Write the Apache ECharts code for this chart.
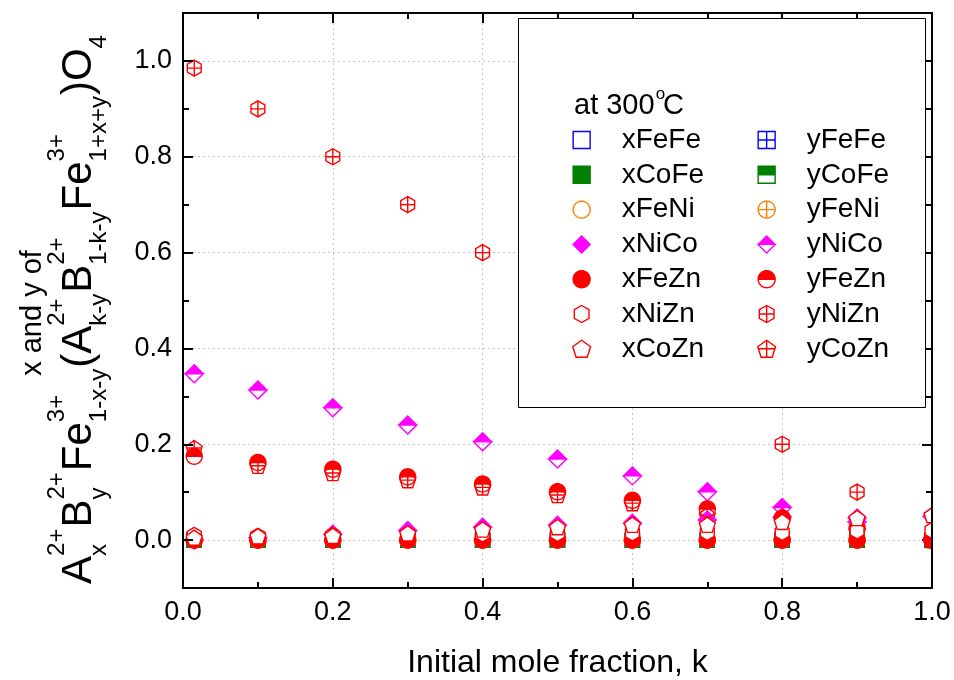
<!DOCTYPE html>
<html><head><meta charset="utf-8">
<script src="https://cdn.jsdelivr.net/npm/echarts/dist/echarts.min.js"></script>
<style>html,body{margin:0;padding:0;background:#fff}#c{width:954px;height:680px}</style>
</head><body><div id="c"></div>
<script>
// ---------------- data ----------------
const kValues = [0.015, 0.1, 0.2, 0.3, 0.4, 0.5, 0.6, 0.7, 0.8, 0.9, 1.0];
const xFeFe = [0, 0, 0, 0, 0, 0, 0, 0, 0, 0, 0];
const yFeFe = [0, 0, 0, 0, 0, 0, 0, 0, 0, 0, 0];
const xCoFe = [0, 0, 0, 0, 0, 0, 0, 0, 0, 0, 0];
const yCoFe = [0, 0, 0, 0, 0, 0, 0, 0, 0, 0, 0];
const xFeNi = [0, 0, 0, 0, 0, 0, 0, 0, 0, 0, 0];
const yFeNi = [0, 0, 0, 0, 0, 0, 0, 0, 0, 0, 0];
const xNiCo = [0.0, 0.005, 0.012, 0.02, 0.027, 0.031, 0.035, 0.042, 0.048, 0.046, 0.05];
const yNiCo = [0.347, 0.313, 0.276, 0.240, 0.205, 0.169, 0.134, 0.101, 0.068, 0.038, 0.0];
const xFeZn = [0, 0, 0, 0, 0, 0, 0, 0, 0, 0, 0];
const yFeZn = [0.175, 0.162, 0.148, 0.132, 0.117, 0.101, 0.083, 0.065, 0.046, 0.025, 0.003];
const xNiZn = [0.01, 0.008, 0.01, 0.012, 0.013, 0.014, 0.015, 0.016, 0.016, 0.019, 0.02];
const yNiZn = [0.985, 0.9, 0.8, 0.7, 0.6, 0.5, 0.4, 0.3, 0.2, 0.1, 0.0];
const xCoZn = [0.005, 0.008, 0.009, 0.014, 0.022, 0.027, 0.032, 0.032, 0.038, 0.046, 0.052];
const yCoZn = [0.192, 0.155, 0.14, 0.125, 0.11, 0.094, 0.077, 0.052, 0.044, 0.02, 0.0];
const xTickLabels = ['0.0', '0.2', '0.4', '0.6', '0.8', '1.0'];
const yTickLabels = ['0.0', '0.2', '0.4', '0.6', '0.8', '1.0'];
const legendX = ['xFeFe', 'xCoFe', 'xFeNi', 'xNiCo', 'xFeZn', 'xNiZn', 'xCoZn'];
const legendY = ['yFeFe', 'yCoFe', 'yFeNi', 'yNiCo', 'yFeZn', 'yNiZn', 'yCoZn'];

// ---------------- symbols ----------------
const H = 7;
function P(pts) { return 'M' + pts.map(p => p[0].toFixed(2) + ' ' + p[1].toFixed(2)).join(' L') + ' Z'; }
function arc(a0, a1, n) { const o = []; for (let i = 0; i <= n; i++) { const a = (a0 + (a1 - a0) * i / n) * Math.PI / 180; o.push([H + H * Math.cos(a), H + H * Math.sin(a)]); } return o; }
function ngon(angles) { return angles.map(d => { const a = d * Math.PI / 180; return [H + H * Math.cos(a), H + H * Math.sin(a)]; }); }
const SH = {};
SH.square = 'M0 0 L14 0 L14 14 L0 14 Z';
SH.squareCross = SH.square + ' M7 0 L7 14 M0 7 L14 7';
SH.squareHalf = SH.square + ' M0 7 L0 14 L14 14 L14 7 Z';
const circ = arc(-90, 270, 40); circ.pop();
SH.circle = P(circ);
SH.circleCross = SH.circle + ' M7 0 L7 14 M0 7 L14 7';
SH.circleHalf = SH.circle + ' ' + P(arc(180, 0, 20));
SH.diamond = 'M7 0 L14 7 L7 14 L0 7 Z';
SH.diamondHalf = SH.diamond + ' M0 7 L7 14 L14 7 Z';
const hexPts = ngon([-90, -30, 30, 90, 150, 210]);
SH.hex = P(hexPts);
SH.hexCross = SH.hex + ' M7 0 L7 14 M' + hexPts[5][0].toFixed(2) + ' 7 L' + hexPts[1][0].toFixed(2) + ' 7';
const penPts = ngon([-90, -18, 54, 126, 198]);
SH.pent = P(penPts);
SH.pentCross = SH.pent + ' M7 0 L7 ' + penPts[2][1].toFixed(2) + ' M0.8 6.3 L13.2 6.3';

const BLUE = '#0000ff', GREEN = '#008000', ORANGE = '#ff8000', MAG = '#ff00ff', RED = '#ff0000';
function mk(name, vals, shape, stroke, fill, size) {
  return {
    name, type: 'scatter', xAxisIndex: 0, yAxisIndex: 0,
    data: kValues.map((k, i) => [k, vals[i]]),
    symbol: 'path://' + SH[shape], symbolSize: size, symbolKeepAspect: true,
    itemStyle: { color: fill, borderColor: stroke, borderWidth: 1.4, opacity: 1 },
    emphasis: { disabled: true }, z: 2, animation: false
  };
}
const series = [
  mk('xFeFe', xFeFe, 'square', BLUE, '#fff', 14),
  mk('yFeFe', yFeFe, 'squareCross', BLUE, '#fff', 14),
  mk('xCoFe', xCoFe, 'square', GREEN, GREEN, 14),
  mk('yCoFe', yCoFe, 'squareHalf', GREEN, GREEN, 14),
  mk('xFeNi', xFeNi, 'circle', ORANGE, '#fff', 16),
  mk('yFeNi', yFeNi, 'circleCross', ORANGE, '#fff', 16),
  mk('yNiZn', yNiZn, 'hexCross', RED, '#fff', 16),
  mk('yCoZn', yCoZn, 'pentCross', RED, '#fff', 16),
  mk('xNiCo', xNiCo, 'diamond', MAG, MAG, 18),
  mk('yNiCo', yNiCo, 'diamondHalf', MAG, MAG, 18),
  mk('xFeZn', xFeZn, 'circle', RED, RED, 16),
  mk('yFeZn', yFeZn, 'circleHalf', RED, RED, 16),
  mk('xNiZn', xNiZn, 'hex', RED, '#fff', 16),
  mk('xCoZn', xCoZn, 'pent', RED, '#fff', 16)
];

// ---------------- layout ----------------
const FF = '"Liberation Sans", Arial, sans-serif';
const GL = 183, GR = 22, GT = 13, GB = 92;
const step = (680 - GT - GB) / 12;
const tickFmt = (labels) => (v) => { const i = Math.round(v / 0.2); return Math.abs(v - i * 0.2) < 1e-6 && labels[i] !== undefined ? labels[i] : ''; };
const axLine = { show: true, onZero: false, lineStyle: { color: '#000', width: 2 } };
const tick = { show: true, inside: true, length: 10, lineStyle: { color: '#000', width: 2 } };
const minor = { show: true, splitNumber: 2, length: 6, lineStyle: { color: '#000', width: 2 } };
const grid = { show: true, lineStyle: { color: '#c4c4c4', width: 1, type: [2, 3] } };

// measure text for the y title
const mctx = document.createElement('canvas').getContext('2d');
function tw(t, s) { mctx.font = s + 'px "Liberation Sans"'; return mctx.measureText(t).width; }
const BIG = 42, SMALL = 24;
const parts = [['A', '2+', 'x'], ['B', '2+', 'y'], ['Fe', '3+', '1-x-y'], ['(A', '2+', 'k-y'], ['B', '2+', '1-k-y'], ['Fe', '3+', '1+x+y'], [')O', '', '4']];
let L = 0;
parts.forEach(p => { L += tw(p[0], BIG) + Math.max(tw(p[1], SMALL), tw(p[2], SMALL)) + 1; });
const tchildren = [];
let pos = -L / 2;
function T(text, x, y, size, align) {
  return { type: 'text', x, y, style: { text, fontSize: size, fontFamily: FF, fill: '#000', align: align || 'left', textAlign: align || 'left', verticalAlign: 'middle', textVerticalAlign: 'middle' } };
}
parts.forEach(p => {
  tchildren.push(T(p[0], pos, -0.31 * BIG, BIG));
  pos += tw(p[0], BIG);
  if (p[1]) tchildren.push(T(p[1], pos, -0.64 * BIG - 0.31 * SMALL, SMALL));
  if (p[2]) tchildren.push(T(p[2], pos, 0.62 * SMALL - 0.31 * SMALL, SMALL));
  pos += Math.max(tw(p[1], SMALL), tw(p[2], SMALL)) + 1;
});
tchildren.push(T('x and y of', -4, -50 - 0.31 * 29, 29, 'center'));

const AT = 29;
const atW = tw('at 300', AT);
const graphics = [
  { type: 'rect', shape: { x: 518.5, y: 18.5, width: 407, height: 389 }, style: { fill: '#fff', stroke: '#000', lineWidth: 1 }, z: 3, silent: true },
  { type: 'rect', shape: { x: 933, y: 0, width: 21, height: 680 }, style: { fill: '#fff' }, z: 4, silent: true },
  T('at 300', 574, 106, AT), T('o', 574 + atW + 1, 94, 17), T('C', 574 + atW + tw('o', 17) - 1, 106, AT),
  { type: 'group', x: 92, y: 309, rotation: Math.PI / 2, z: 5, children: tchildren }
];
graphics.forEach(g => { if (g.type === 'text') g.z = 5; });

const legendBase = {
  orient: 'vertical', top: 126, itemWidth: 70, itemHeight: 17, itemGap: 6.8, padding: 0,
  selectedMode: false, symbolKeepAspect: true, z: 4,
  itemStyle: { borderWidth: 1.4 },
  textStyle: { fontSize: 28, fontFamily: FF, color: '#000' }
};

const option = {
  animation: false,
  backgroundColor: '#fff',
  grid: [
    { left: GL, right: GR, top: GT, bottom: GB, containLabel: false, outerBoundsMode: 'none' },
    { left: GL, right: GR, top: GT + step, bottom: GB + step, containLabel: false, outerBoundsMode: 'none' }
  ],
  xAxis: [
    { gridIndex: 0, type: 'value', position: 'bottom', min: 0, max: 1, interval: 0.2, z: 5,
      axisLine: axLine, axisTick: tick, minorTick: minor, splitLine: { show: false },
      axisLabel: { fontSize: 27, fontFamily: FF, color: '#000', margin: 11, formatter: tickFmt(xTickLabels) },
      name: 'Initial mole fraction, k', nameLocation: 'middle', nameGap: 59,
      nameTextStyle: { fontSize: 32, fontFamily: FF, color: '#000' } },
    { gridIndex: 0, type: 'value', position: 'top', min: 0, max: 1, interval: 0.2, z: 1,
      axisLine: axLine, axisTick: tick, minorTick: minor, splitLine: grid, axisLabel: { show: false } },
    { gridIndex: 1, type: 'value', min: 0, max: 1, show: false }
  ],
  yAxis: [
    { gridIndex: 0, type: 'value', position: 'left', min: -0.1, max: 1.1, z: 5,
      axisLine: axLine, axisTick: { show: false }, axisLabel: { show: false }, splitLine: { show: false } },
    { gridIndex: 0, type: 'value', position: 'right', min: -0.1, max: 1.1, z: 5,
      axisLine: axLine, axisTick: { show: false }, axisLabel: { show: false }, splitLine: { show: false } },
    { gridIndex: 1, type: 'value', position: 'left', min: 0, max: 1, interval: 0.2, z: 5,
      axisLine: { show: false, onZero: false }, axisTick: tick, minorTick: minor, splitLine: { show: false },
      axisLabel: { fontSize: 27, fontFamily: FF, color: '#000', margin: 11, formatter: tickFmt(yTickLabels) } },
    { gridIndex: 1, type: 'value', position: 'right', min: 0, max: 1, interval: 0.2, z: 1,
      axisLine: { show: false, onZero: false }, axisTick: tick, minorTick: minor, splitLine: grid, axisLabel: { show: false } }
  ],
  legend: [
    Object.assign({}, legendBase, { left: 572, data: legendX }),
    Object.assign({}, legendBase, { left: 757, data: legendY })
  ],
  graphic: graphics,
  series
};
const chart = echarts.init(document.getElementById('c'), null, { renderer: 'canvas', width: 954, height: 680 });
chart.setOption(option);
</script>
</body></html>
